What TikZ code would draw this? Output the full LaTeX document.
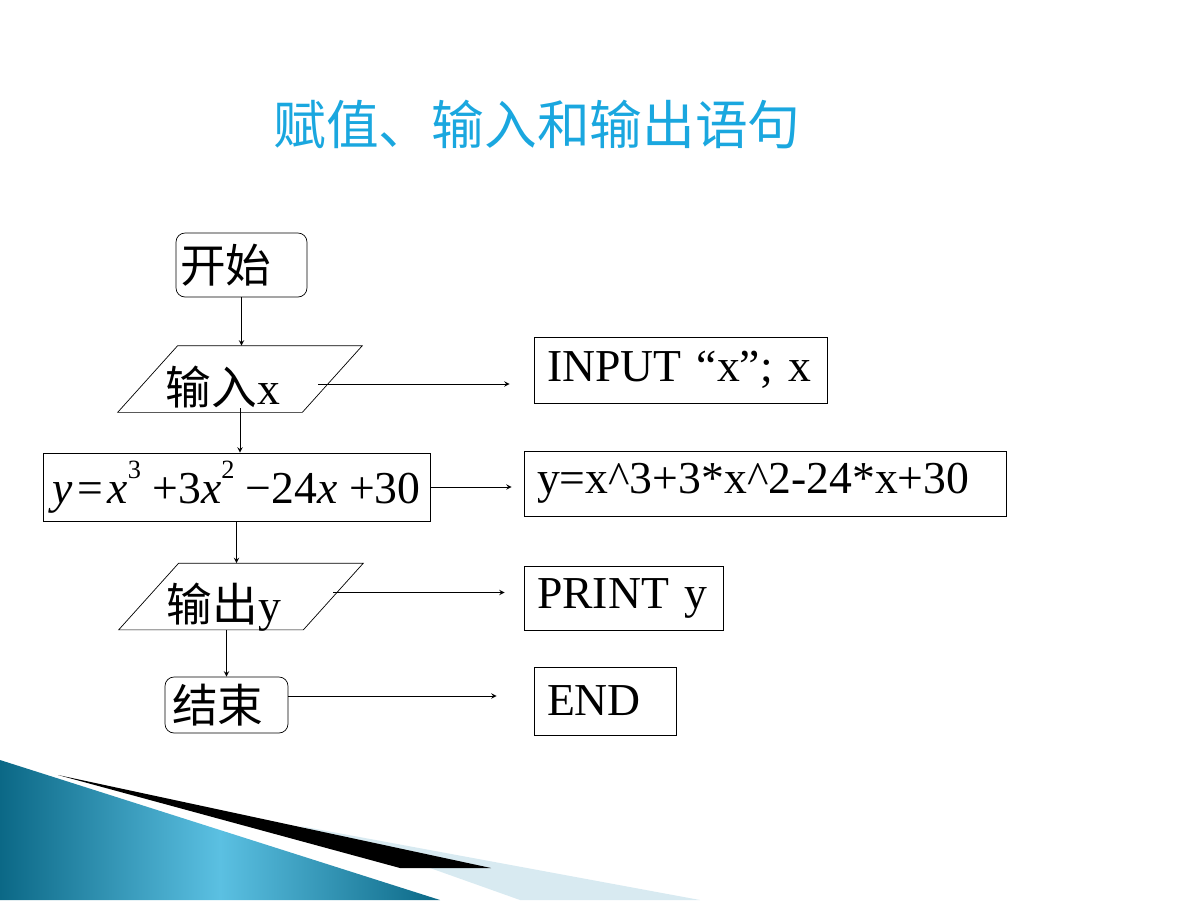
\documentclass[tikz,border=0pt]{standalone}
\usepackage{fontspec}
\setmainfont{Liberation Serif}
\newfontfamily\cjk{Noto Sans CJK SC}
\usepackage{xcolor}
\usetikzlibrary{shapes.geometric, arrows.meta, positioning, calc}
\definecolor{titleblue}{HTML}{1AA7DF}
\definecolor{tealdark}{HTML}{0B6886}
\definecolor{teallight}{HTML}{5BC0E2}
\definecolor{paleblue}{HTML}{D8EAF1}
\newcommand{\pwr}[1]{\raisebox{0.55em}{\fontsize{15}{15}\selectfont #1}}
\newcommand{\iotext}[1]{\makebox[0pt][c]{\raisebox{-0.5cm}[0pt][0pt]{#1}\hspace{0.68cm}}}

\begin{document}
\begin{tikzpicture}[
    x=0.02cm, y=-0.02cm,
    every node/.style={font=\fontsize{26}{30}\selectfont},
    term/.style={rectangle, rounded corners=0.18cm, draw=black, align=left, minimum height=1.28cm},
    io/.style={rectangle, minimum width=3.68cm, minimum height=1.32cm, inner sep=0pt},
    proc/.style={rectangle, draw=black, minimum width=7.74cm, minimum height=1.36cm, inner sep=0pt},
    code/.style={rectangle, draw=black, align=left, inner xsep=0.26cm, inner ysep=0pt},
    arrow/.style={->, >=stealth}
]
    \useasboundingbox (0,0) rectangle (1200,900);

    % bottom decoration
    \shade[left color=tealdark, right color=tealdark, middle color=teallight] (0,760) -- (440,900) -- (0,900) -- cycle;
    \fill[paleblue] (300,826) -- (700,900) -- (520,900) -- (430,868) -- cycle;
    \fill[black] (58,775) -- (491,868) -- (400,868) -- cycle;

    \node[font=\cjk\fontsize{30}{34}\selectfont, text=titleblue] (title) at (537,125) {赋值、输入和输出语句};

    % flow chart
    \node[term, text width=2.46cm, inner xsep=0.08cm] (start) at (241.5,265) {\cjk 开始};
    \node[io] (in) at (240,379) {\iotext{\cjk 输入\rmfamily x}};
    \node[proc] (fx) at (236.5,487) {\textit{y}\hspace{0.1em}=\hspace{0.1em}\textit{x}\pwr{3}\hspace{0.25em}+3\textit{x}\pwr{2}\hspace{0.25em}−24\textit{x}\hspace{0.25em}+30};
    \node[io] (out) at (241,596.5) {\iotext{\cjk 输出\rmfamily y}};
    \node[term, text width=2.18cm, inner xsep=0.14cm, minimum height=1.12cm] (stop) at (226.5,705) {\cjk 结束};

    % parallelogram outlines
    \foreach \n in {in, out}
        \draw ([xshift=-0.6cm]\n.south west) -- ([xshift=-0.6cm]\n.south east) -- ([xshift=0.6cm]\n.north east) -- ([xshift=0.6cm]\n.north west) -- cycle;

    % statements
    \node[code, text width=5.34cm, minimum height=1.32cm] (inp) at (680.5,370) {INPUT “x”; x};
    \node[code, text width=9.12cm, minimum height=1.30cm] (expr) at (765,483.5) {y=x\^{}3+3*x\^{}2-24*x+30};
    \node[code, text width=3.46cm, minimum height=1.28cm] (prt) at (623.5,598) {PRINT y};
    \node[code, text width=2.32cm, minimum height=1.36cm] (fin) at (605,701) {END};

    \draw[arrow] (start.south) -- (start.south |- in.north);
    \draw[arrow] ([yshift=0.08cm]in.south) -- (in.south |- fx.north);
    \draw[arrow] (fx.south) -- (fx.south |- out.north);
    \draw[arrow] (stop.north |- out.south) -- (stop.north);

    \draw[arrow, shorten >=0.48cm] ([xshift=-0.28cm, yshift=-0.1cm]in.east) -- ([yshift=-0.1cm]in.east -| inp.west);
    \draw[arrow, shorten >=0.24cm] (fx.east) -- (fx.east -| expr.west);
    \draw[arrow, shorten >=0.38cm] ([yshift=0.08cm]out.east) -- ([yshift=0.08cm]out.east -| prt.west);
    \draw[arrow, shorten >=0.74cm] ([yshift=0.18cm]stop.east) -- ([yshift=0.18cm]stop.east -| fin.west);
\end{tikzpicture}
\end{document}
